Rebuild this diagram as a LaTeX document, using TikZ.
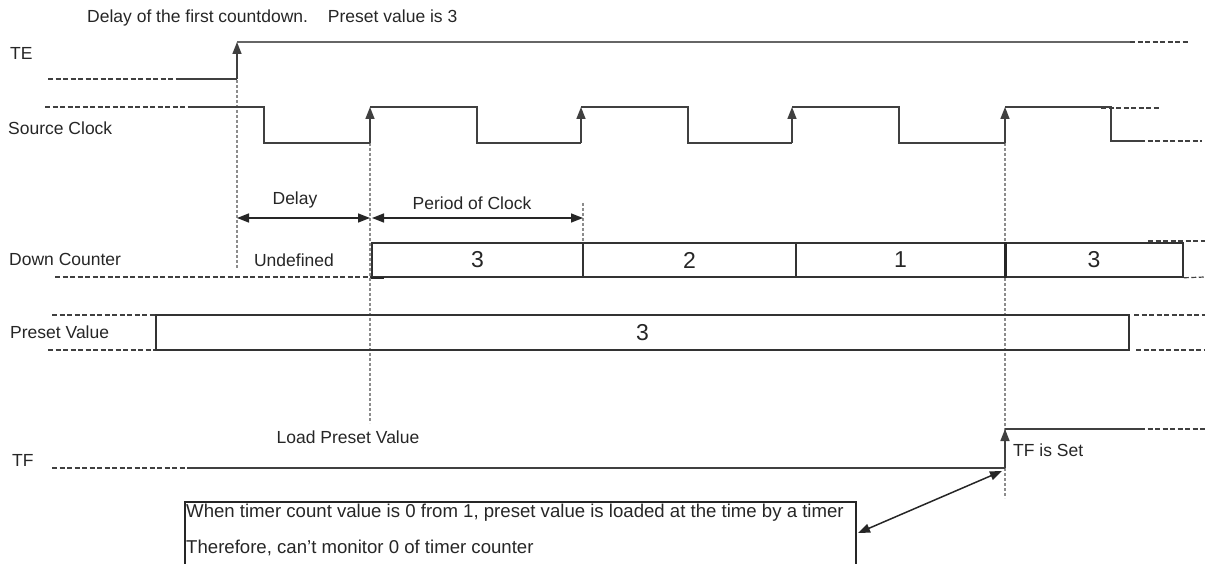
\documentclass[tikz,border=0pt]{standalone}
\usepackage{fontspec}
\setmainfont{Liberation Sans}
\usetikzlibrary{arrows.meta}
\begin{document}
\begin{tikzpicture}[x=1pt,y=-1pt,
  lbl/.style={font=\fontsize{17.5}{20}\selectfont, inner sep=0pt, text=black!85},
  notetext/.style={font=\fontsize{18.6}{21}\selectfont, inner sep=0pt, text=black!85},
  sig/.style={line width=1.5pt, draw=black!75},
  ext/.style={line width=1.2pt, draw=black!75, dash pattern=on 5pt off 2.5pt},
  guide/.style={line width=1.3pt, draw=black!45, dash pattern=on 3pt off 2pt},
  risetip/.style={sig, -{Triangle[length=12pt,width=9pt]}},
  dim/.style={line width=1.5pt, draw=black!85, {Triangle[length=12pt,width=9pt]}-{Triangle[length=12pt,width=9pt]}},
  cell/.style={draw=black!80, line width=1.5pt, minimum height=34pt, inner sep=0pt, font=\fontsize{23}{27}\selectfont, text=black!85}
]
\useasboundingbox (0,0) rectangle (1205,564);

% labels
\node[lbl, anchor=west] (title) at (87,18) {Delay of the first countdown.\hspace{20pt}Preset value is 3};
\node[lbl, anchor=west] (te) at (10,53) {TE};
\node[lbl, anchor=west] (sc) at (8,128) {Source Clock};
\node[lbl, anchor=west] (dc) at (9,259) {Down Counter};
\node[lbl, anchor=west] (pv) at (10,332) {Preset Value};
\node[lbl, anchor=west] (tf) at (12,460) {TF};
\node[lbl] (delay) at (295,200) {Delay};
\node[lbl] (period) at (472,203) {Period of Clock};
\node[lbl] (undef) at (294,260) {Undefined};
\node[lbl] (load) at (348,437) {Load Preset Value};
\node[lbl, anchor=west] (tfset) at (1013,450) {TF is Set};

% guide lines
\draw[guide] (237,80) -- (237,269);
\draw[guide] (370,143) -- (370,423);
\draw[guide] (583,203) -- (583,243);
\draw[guide] (1005,143) -- (1005,498);

% TE
\draw[ext] (48,79) -- (180,79);
\draw[sig] (180,79) -- (237,79);
\draw[risetip] (237,79) -- (237,42);
\draw[sig, draw=black!60] (237,42) -- (1130,42);
\draw[ext] (1130,42) -- (1188,42);

% Source clock
\draw[ext] (45,107) -- (190,107);
\draw[sig] (190,107) -- (264,107) -- (264,143) -- (370,143)
  (370,107) -- (477,107) -- (477,143) -- (581,143)
  (581,107) -- (688,107) -- (688,143) -- (792,143)
  (792,107) -- (899,107) -- (899,143) -- (1005,143)
  (1005,107) -- (1111,107) -- (1111,141) -- (1140,141);
\draw[risetip] (370,143) -- (370,107);
\draw[risetip] (581,143) -- (581,107);
\draw[risetip] (792,143) -- (792,107);
\draw[risetip] (1005,143) -- (1005,107);
\draw[ext] (1101,108) -- (1160,108);
\draw[ext] (1140,141) -- (1202,141);

% dimension arrows
\coordinate (d1) at (237,218);
\coordinate (d2) at (370,218);
\coordinate (p1) at (372,218);
\coordinate (p2) at (583,218);
\draw[dim] (d1) -- (d2);
\draw[dim] (p1) -- (p2);

% Down counter
\draw[ext] (55,277) -- (372,277);
\node[cell, minimum width=211pt] (c3a) at (477.5,260) {3};
\node[cell, minimum width=213pt] (c2) at (689.5,260) {2};
\node[cell, minimum width=209pt] (c1) at (900.5,260) {1};
\node[cell, minimum width=178pt] (c3b) at (1094,260) {3};
\draw[line width=3pt, black!85] (c1.north east) -- (c1.south east);
\draw[line width=2.5pt, black!85] (c3a.south west) -- ++(13,0);
\draw[ext] (1148,241) -- (1205,241);
\draw[ext] (c3b.south east) -- (1205,277);

% Preset value
\draw[ext] (52,315) -- (156,315);
\draw[ext] (48,350) -- (156,350);
\node[cell, minimum width=973pt, minimum height=35pt] (pvbox) at (642.5,332.5) {3};
\draw[ext] (1134,315) -- (1205,315);
\draw[ext] (1136,350) -- (1205,350);

% TF
\draw[ext] (52,468) -- (190,468);
\draw[sig] (190,468) -- (1005,468);
\draw[risetip] (1005,468) -- (1005,429);
\draw[sig] (1005,429) -- (1140,429);
\draw[ext] (1140,429) -- (1205,429);

% note
\node[draw=black!85, line width=1.5pt, minimum width=671pt, minimum height=90pt, anchor=north west, inner sep=0pt] (note) at (184,501) {};
\node[notetext, anchor=west] (n1) at (186,513) {When timer count value is 0 from 1, preset value is loaded at the time by a timer};
\node[notetext, anchor=west] (n2) at (186,548) {Therefore, can’t monitor 0 of timer counter};
\coordinate (na) at (858,533);
\coordinate (nb) at (1002,471);
\draw[dim] (na) -- (nb);
\end{tikzpicture}
\end{document}
